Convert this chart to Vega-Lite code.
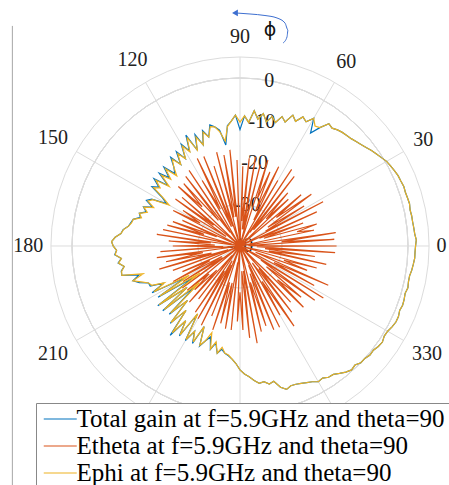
{
  "$schema": "https://vega.github.io/schema/vega-lite/v6.json",
  "width": 449,
  "height": 485,
  "autosize": {"type": "none"},
  "padding": 0,
  "background": "white",
  "config": {"view": {"stroke": null}},
  "datasets": {
    "pattern": [
      {"phi":0,"p":1.8,"e":-17,"t":1.8},{"phi":2,"p":2.0,"e":-38,"t":2.0},{"phi":4,"p":1.7,"e":-17.5,"t":1.7},{"phi":6,"p":1.6,"e":-30,"t":1.6},{"phi":8,"p":1.5,"e":-17,"t":1.5},{"phi":10,"p":1.5,"e":-40,"t":1.5},{"phi":12,"p":1.4,"e":-22,"t":1.4},{"phi":14,"p":1.6,"e":-26,"t":1.6},{"phi":16,"p":1.5,"e":-21,"t":1.5},{"phi":18,"p":1.4,"e":-34,"t":1.4},
      {"phi":20,"p":1.5,"e":-24,"t":1.5},{"phi":22,"p":1.3,"e":-35,"t":1.3},{"phi":24,"p":1.2,"e":-20,"t":1.2},{"phi":26,"p":0.9,"e":-40,"t":0.9},{"phi":28,"p":0.6,"e":-17.6,"t":0.6},{"phi":30,"p":0.3,"e":-33,"t":0.3},{"phi":32,"p":-0.3,"e":-22,"t":-0.3},{"phi":34,"p":-0.8,"e":-32,"t":-0.8},{"phi":36,"p":-1.3,"e":-19,"t":-1.3},{"phi":38,"p":-1.9,"e":-29,"t":-1.9},
      {"phi":40,"p":-2.4,"e":-21,"t":-2.4},{"phi":42,"p":-2.8,"e":-40,"t":-2.8},{"phi":44,"p":-3.2,"e":-24,"t":-3.2},{"phi":46,"p":-3.4,"e":-31,"t":-3.4},{"phi":48,"p":-3.6,"e":-23,"t":-3.6},{"phi":50,"p":-3.9,"e":-35,"t":-3.9},{"phi":52,"p":-4.4,"e":-19,"t":-4.4},{"phi":54,"p":-4.0,"e":-36,"t":-4.0},{"phi":56,"p":-6.0,"e":-18,"t":-6.0},{"phi":58,"p":-6.3,"e":-40,"t":-8.3},
      {"phi":60,"p":-4.9,"e":-22,"t":-4.9},{"phi":62,"p":-6.5,"e":-33,"t":-6.5},{"phi":64,"p":-5.8,"e":-19,"t":-5.8},{"phi":66,"p":-7.5,"e":-31,"t":-7.5},{"phi":68,"p":-6.4,"e":-21,"t":-6.4},{"phi":70,"p":-8.6,"e":-28,"t":-8.6},{"phi":72,"p":-7.6,"e":-18.5,"t":-7.6},{"phi":74,"p":-9.4,"e":-40,"t":-9.4},{"phi":76,"p":-8.2,"e":-20,"t":-8.2},{"phi":78,"p":-9.8,"e":-36,"t":-9.8},
      {"phi":80,"p":-8.0,"e":-18.4,"t":-8.0},{"phi":82,"p":-9.5,"e":-36,"t":-9.5},{"phi":84,"p":-7.6,"e":-19,"t":-7.6},{"phi":86,"p":-10.5,"e":-34,"t":-10.5},{"phi":88,"p":-9.0,"e":-21,"t":-9.0},{"phi":90,"p":-10.5,"e":-40,"t":-12.3},{"phi":92,"p":-8.8,"e":-19.5,"t":-8.8},{"phi":94,"p":-10.2,"e":-38,"t":-10.2},{"phi":96,"p":-11.4,"e":-17,"t":-11.2},{"phi":98,"p":-14.8,"e":-33,"t":-15.7},
      {"phi":100,"p":-12.4,"e":-18,"t":-12.0},{"phi":102,"p":-11.0,"e":-33,"t":-11.0},{"phi":104,"p":-10.7,"e":-17,"t":-10.3},{"phi":106,"p":-13.0,"e":-40,"t":-13.0},{"phi":108,"p":-11.5,"e":-20,"t":-11.1},{"phi":110,"p":-14.4,"e":-35,"t":-14.4},{"phi":112,"p":-12.0,"e":-17,"t":-11.4},{"phi":114,"p":-15.0,"e":-35,"t":-15.0},{"phi":116,"p":-11.2,"e":-16.8,"t":-10.6},{"phi":118,"p":-14.6,"e":-30,"t":-14.4},
      {"phi":120,"p":-12.5,"e":-22,"t":-12.0},{"phi":122,"p":-15.5,"e":-40,"t":-15.5},{"phi":124,"p":-13.5,"e":-18.3,"t":-12.9},{"phi":126,"p":-16.0,"e":-36,"t":-16.0},{"phi":128,"p":-13.8,"e":-19,"t":-13.2},{"phi":130,"p":-15.5,"e":-32,"t":-15.5},{"phi":132,"p":-17.5,"e":-20,"t":-16.8},{"phi":134,"p":-14.5,"e":-27,"t":-13.9},{"phi":136,"p":-17.1,"e":-19.6,"t":-16.5},{"phi":138,"p":-14.8,"e":-40,"t":-14.1},
      {"phi":140,"p":-18.0,"e":-22,"t":-17.6},{"phi":142,"p":-14.6,"e":-32,"t":-14.0},{"phi":144,"p":-16.5,"e":-21,"t":-16.1},{"phi":146,"p":-15.2,"e":-36,"t":-14.7},{"phi":148,"p":-18.5,"e":-24,"t":-18.1},{"phi":150,"p":-20.5,"e":-29,"t":-19.8},{"phi":152,"p":-16.5,"e":-22,"t":-16.2},{"phi":154,"p":-15.6,"e":-40,"t":-15.2},{"phi":156,"p":-17.5,"e":-25,"t":-17.2},{"phi":158,"p":-15.3,"e":-34,"t":-15.2},
      {"phi":160,"p":-16.5,"e":-23,"t":-16.2},{"phi":162,"p":-14.8,"e":-31,"t":-14.8},{"phi":164,"p":-15.6,"e":-22,"t":-15.3},{"phi":166,"p":-13.8,"e":-38,"t":-13.8},{"phi":168,"p":-13.6,"e":-21.3,"t":-13.4},{"phi":170,"p":-13.0,"e":-40,"t":-13.0},{"phi":172,"p":-12.0,"e":-20,"t":-11.9},{"phi":174,"p":-11.5,"e":-33,"t":-11.5},{"phi":176,"p":-10.2,"e":-23,"t":-10.2},{"phi":178,"p":-9.4,"e":-34,"t":-9.4},
      {"phi":180,"p":-9.8,"e":-24,"t":-9.8},{"phi":182,"p":-10.6,"e":-36,"t":-10.6},{"phi":184,"p":-10.2,"e":-21,"t":-10.1},{"phi":186,"p":-11.6,"e":-40,"t":-11.6},{"phi":188,"p":-10.8,"e":-20,"t":-10.7},{"phi":190,"p":-12.0,"e":-31,"t":-12.0},{"phi":192,"p":-11.2,"e":-22,"t":-11.1},{"phi":194,"p":-11.0,"e":-33,"t":-11.0},{"phi":196,"p":-16.0,"e":-20,"t":-15.0},{"phi":198,"p":-13.2,"e":-37,"t":-13.2},
      {"phi":200,"p":-15.0,"e":-23,"t":-14.5},{"phi":202,"p":-16.5,"e":-40,"t":-16.5},{"phi":204,"p":-17.0,"e":-25,"t":-16.6},{"phi":206,"p":-20.0,"e":-32,"t":-19.8},{"phi":208,"p":-16.8,"e":-22,"t":-16.3},{"phi":210,"p":-26.0,"e":-35,"t":-25.0},{"phi":212,"p":-17.5,"e":-24,"t":-17.0},{"phi":214,"p":-28.5,"e":-35,"t":-26.5},{"phi":216,"p":-16.2,"e":-23,"t":-15.8},{"phi":218,"p":-24.0,"e":-40,"t":-24.0},
      {"phi":220,"p":-16.5,"e":-23.6,"t":-16.0},{"phi":222,"p":-27.0,"e":-30,"t":-25.5},{"phi":224,"p":-17.0,"e":-25,"t":-16.6},{"phi":226,"p":-22.0,"e":-32,"t":-22.0},{"phi":228,"p":-15.5,"e":-22,"t":-15.2},{"phi":230,"p":-20.0,"e":-37,"t":-20.0},{"phi":232,"p":-13.8,"e":-24,"t":-13.0},{"phi":234,"p":-18.0,"e":-40,"t":-18.0},{"phi":236,"p":-14.5,"e":-21,"t":-14.2},{"phi":238,"p":-21.0,"e":-33,"t":-20.8},
      {"phi":240,"p":-14.3,"e":-20,"t":-14.0},{"phi":242,"p":-17.0,"e":-36,"t":-17.0},{"phi":244,"p":-14.6,"e":-19,"t":-14.2},{"phi":246,"p":-19.0,"e":-35,"t":-19.0},{"phi":248,"p":-14.5,"e":-22,"t":-14.3},{"phi":250,"p":-16.0,"e":-40,"t":-16.0},{"phi":252,"p":-18.3,"e":-19,"t":-17.2},{"phi":254,"p":-14.5,"e":-31,"t":-14.4},{"phi":256,"p":-16.5,"e":-21,"t":-16.2},{"phi":258,"p":-13.9,"e":-31,"t":-13.9},
      {"phi":260,"p":-15.5,"e":-20,"t":-15.0},{"phi":262,"p":-14.2,"e":-36,"t":-14.2},{"phi":264,"p":-13.9,"e":-19.9,"t":-13.7},{"phi":266,"p":-13.0,"e":-40,"t":-13.0},{"phi":268,"p":-12.0,"e":-22,"t":-12.0},{"phi":270,"p":-10.5,"e":-29,"t":-10.5},{"phi":272,"p":-9.5,"e":-20,"t":-9.5},{"phi":274,"p":-8.8,"e":-34,"t":-8.8},{"phi":276,"p":-7.8,"e":-18,"t":-7.8},{"phi":278,"p":-7.0,"e":-34,"t":-7.0},
      {"phi":280,"p":-7.2,"e":-16.5,"t":-7.2},{"phi":282,"p":-6.4,"e":-40,"t":-6.4},{"phi":284,"p":-6.8,"e":-19,"t":-6.8},{"phi":286,"p":-5.0,"e":-31,"t":-5.0},{"phi":288,"p":-4.1,"e":-20,"t":-4.1},{"phi":290,"p":-4.6,"e":-33,"t":-4.6},{"phi":292,"p":-4.5,"e":-18.5,"t":-4.5},{"phi":294,"p":-4.2,"e":-35,"t":-4.2},{"phi":296,"p":-3.8,"e":-18.5,"t":-3.8},{"phi":298,"p":-3.4,"e":-40,"t":-3.4},
      {"phi":300,"p":-2.7,"e":-21,"t":-2.7},{"phi":302,"p":-2.9,"e":-30,"t":-2.9},{"phi":304,"p":-2.3,"e":-17,"t":-2.3},{"phi":306,"p":-2.2,"e":-35,"t":-2.2},{"phi":308,"p":-1.5,"e":-20,"t":-1.5},{"phi":310,"p":-0.8,"e":-33,"t":-0.8},{"phi":312,"p":-0.3,"e":-22,"t":-0.3},{"phi":314,"p":-0.6,"e":-40,"t":-0.6},{"phi":316,"p":0.0,"e":-19,"t":0.0},{"phi":318,"p":0.0,"e":-28,"t":0.0},
      {"phi":320,"p":0.4,"e":-21,"t":0.4},{"phi":322,"p":0.3,"e":-32,"t":0.3},{"phi":324,"p":0.7,"e":-18,"t":0.7},{"phi":326,"p":0.9,"e":-34,"t":0.9},{"phi":328,"p":0.5,"e":-16.6,"t":0.5},{"phi":330,"p":0.6,"e":-40,"t":0.6},{"phi":332,"p":1.0,"e":-20,"t":1.0},{"phi":334,"p":1.3,"e":-31,"t":1.3},{"phi":336,"p":1.3,"e":-17,"t":1.3},{"phi":338,"p":1.0,"e":-36,"t":1.0},
      {"phi":340,"p":1.2,"e":-23,"t":1.2},{"phi":342,"p":1.1,"e":-29,"t":1.1},{"phi":344,"p":0.9,"e":-21,"t":0.9},{"phi":346,"p":1.2,"e":-40,"t":1.2},{"phi":348,"p":1.0,"e":-19,"t":1.0},{"phi":350,"p":1.0,"e":-33,"t":1.0},{"phi":352,"p":1.3,"e":-22,"t":1.3},{"phi":354,"p":1.5,"e":-34,"t":1.5},{"phi":356,"p":1.7,"e":-17.3,"t":1.7},{"phi":358,"p":1.7,"e":-36,"t":1.7},
      {"phi":360,"p":1.8,"e":-17,"t":1.8}
    ]
  },
  "layer": [
    {
      "data": {"values": [{"x": -54.2, "y": 52.4, "y2": -60}]},
      "mark": {"type": "rule", "color": "#a6a6a6", "strokeWidth": 1},
      "encoding": {
        "x": {"field": "x", "type": "quantitative", "scale": {"domain": [-57.143, 49.762], "nice": false, "zero": false}, "axis": null},
        "y": {"field": "y", "type": "quantitative", "scale": {"domain": [-56.905, 58.571], "nice": false, "zero": false}, "axis": null},
        "y2": {"field": "y2"}
      }
    },
    {
      "data": {"values": [{"level": -30}, {"level": -20}, {"level": -10}, {"level": 0}, {"level": 5}]},
      "mark": {"type": "arc", "filled": false, "color": "#dcdcdc", "strokeWidth": 1, "theta": 0, "theta2": 6.2832},
      "encoding": {
        "x": {"datum": 0, "type": "quantitative"},
        "y": {"datum": 0, "type": "quantitative"},
        "radius": {"field": "level", "type": "quantitative", "scale": {"type": "linear", "domain": [-40, 5], "range": [0, 189], "zero": false}}
      }
    },
    {
      "data": {"values": [{"a": 0}, {"a": 30}, {"a": 60}, {"a": 90}, {"a": 120}, {"a": 150}]},
      "transform": [
        {"calculate": "45*cos(datum.a*PI/180)", "as": "x"},
        {"calculate": "45*sin(datum.a*PI/180)", "as": "y"},
        {"calculate": "-datum.x", "as": "x2"},
        {"calculate": "-datum.y", "as": "y2"}
      ],
      "mark": {"type": "rule", "color": "#dcdcdc", "strokeWidth": 1},
      "encoding": {
        "x": {"field": "x", "type": "quantitative"},
        "y": {"field": "y", "type": "quantitative"},
        "x2": {"field": "x2"},
        "y2": {"field": "y2"}
      }
    },
    {
      "data": {"values": [{"a": 0}, {"a": 30}, {"a": 60}, {"a": 90}, {"a": 120}, {"a": 150}, {"a": 180}, {"a": 210}, {"a": 330}]},
      "transform": [
        {"calculate": "46.8 + 0.5*(abs(cos(datum.a*PI/180))*2.4*length(toString(datum.a)) + abs(sin(datum.a*PI/180))*6)", "as": "rl"},
        {"calculate": "datum.rl*cos(datum.a*PI/180)", "as": "x"},
        {"calculate": "datum.rl*sin(datum.a*PI/180)", "as": "y"}
      ],
      "mark": {"type": "text", "font": "Liberation Serif", "fontSize": 20, "color": "#222222", "align": "center", "baseline": "middle"},
      "encoding": {
        "x": {"field": "x", "type": "quantitative"},
        "y": {"field": "y", "type": "quantitative"},
        "text": {"field": "a", "type": "nominal"}
      }
    },
    {
      "data": {"values": [{"level": 0}, {"level": -10}, {"level": -20}, {"level": -30}, {"level": -40}]},
      "transform": [
        {"calculate": "(datum.level+40)*cos(80*PI/180)", "as": "x"},
        {"calculate": "(datum.level+40)*sin(80*PI/180)", "as": "y"}
      ],
      "mark": {"type": "text", "font": "Liberation Serif", "fontSize": 20, "color": "#222222", "align": "center", "baseline": "middle"},
      "encoding": {
        "x": {"field": "x", "type": "quantitative"},
        "y": {"field": "y", "type": "quantitative"},
        "text": {"field": "level", "type": "nominal"}
      }
    },
    {
      "data": {"name": "pattern"},
      "transform": [
        {"fold": ["t", "e", "p"], "as": ["series", "db"]},
        {"filter": "datum.series == 't'"},
        {"calculate": "max(datum.db+40, 0)", "as": "r"},
        {"calculate": "datum.r*cos(datum.phi*PI/180)", "as": "x"},
        {"calculate": "datum.r*sin(datum.phi*PI/180)", "as": "y"}
      ],
      "mark": {"type": "line", "strokeWidth": 1.2},
      "encoding": {
        "x": {"field": "x", "type": "quantitative"},
        "y": {"field": "y", "type": "quantitative"},
        "order": {"field": "phi", "type": "quantitative"},
        "color": {
          "field": "series", "type": "nominal",
          "scale": {"domain": ["t", "e", "p"], "range": ["#0072BD", "#D95319", "#EDB120"]},
          "legend": {
            "orient": "none", "legendX": 36, "legendY": 403, "title": null,
            "symbolType": "M-1,0H3", "symbolSize": 272.25, "symbolStrokeWidth": 1.2,
            "labelFont": "Liberation Serif", "labelFontSize": 25, "labelColor": "#000000", "labelLimit": 0, "labelOffset": 12,
            "rowPadding": 1, "padding": 3.5, "fillColor": "white", "strokeColor": "#888888", "cornerRadius": 0,
            "labelExpr": "datum.label == 't' ? 'Total gain at f=5.9GHz and theta=90' : datum.label == 'e' ? 'Etheta at f=5.9GHz and theta=90' : 'Ephi at f=5.9GHz and theta=90'"
          }
        }
      }
    },
    {
      "data": {"name": "pattern"},
      "transform": [
        {"fold": ["t", "e", "p"], "as": ["series", "db"]},
        {"filter": "datum.series == 'e'"},
        {"calculate": "max(datum.db+40, 0)", "as": "r"},
        {"calculate": "datum.r*cos(datum.phi*PI/180)", "as": "x"},
        {"calculate": "datum.r*sin(datum.phi*PI/180)", "as": "y"}
      ],
      "mark": {"type": "line", "strokeWidth": 1.2},
      "encoding": {
        "x": {"field": "x", "type": "quantitative"},
        "y": {"field": "y", "type": "quantitative"},
        "order": {"field": "phi", "type": "quantitative"},
        "color": {"field": "series", "type": "nominal"}
      }
    },
    {
      "data": {"name": "pattern"},
      "transform": [
        {"fold": ["t", "e", "p"], "as": ["series", "db"]},
        {"filter": "datum.series == 'p'"},
        {"calculate": "max(datum.db+40, 0)", "as": "r"},
        {"calculate": "datum.r*cos(datum.phi*PI/180)", "as": "x"},
        {"calculate": "datum.r*sin(datum.phi*PI/180)", "as": "y"}
      ],
      "mark": {"type": "line", "strokeWidth": 1.2},
      "encoding": {
        "x": {"field": "x", "type": "quantitative"},
        "y": {"field": "y", "type": "quantitative"},
        "order": {"field": "phi", "type": "quantitative"},
        "color": {"field": "series", "type": "nominal"}
      }
    },
    {
      "data": {"values": [
        {"k": 1, "x": -0.95, "y": 55.48}, {"k": 2, "x": 2.38, "y": 55.24}, {"k": 3, "x": 5.95, "y": 54.88}, {"k": 4, "x": 8.81, "y": 54.29},
        {"k": 5, "x": 10.71, "y": 53.1}, {"k": 6, "x": 11.43, "y": 51.43}, {"k": 7, "x": 11.19, "y": 49.76}, {"k": 8, "x": 10.24, "y": 48.33}
      ]},
      "mark": {"type": "line", "color": "#3d6fd0", "strokeWidth": 1, "interpolate": "monotone"},
      "encoding": {
        "x": {"field": "x", "type": "quantitative"},
        "y": {"field": "y", "type": "quantitative"},
        "order": {"field": "k", "type": "quantitative"}
      }
    },
    {
      "data": {"values": [{"x": -1.2, "y": 55.5}]},
      "mark": {"type": "point", "shape": "triangle-left", "filled": true, "color": "#3d6fd0", "size": 45, "opacity": 1},
      "encoding": {
        "x": {"field": "x", "type": "quantitative"},
        "y": {"field": "y", "type": "quantitative"}
      }
    },
    {
      "data": {"values": [{"x": 7.14, "y": 51.43, "s": "ϕ"}]},
      "mark": {"type": "text", "font": "DejaVu Sans", "fontSize": 19, "color": "#111111", "align": "center", "baseline": "middle"},
      "encoding": {
        "x": {"field": "x", "type": "quantitative"},
        "y": {"field": "y", "type": "quantitative"},
        "text": {"field": "s", "type": "nominal"}
      }
    }
  ]
}
